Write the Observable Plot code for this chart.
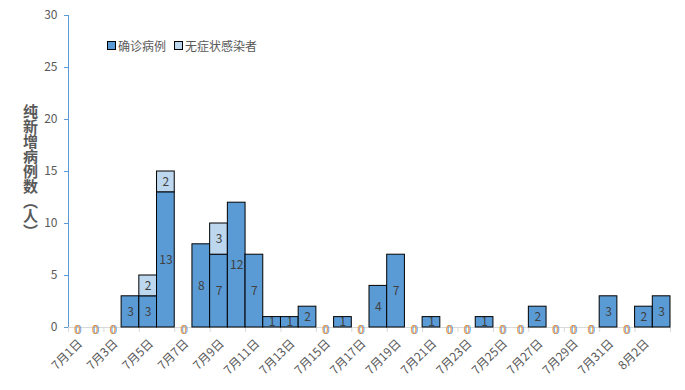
<!DOCTYPE html>
<html>
<head>
<meta charset="utf-8">
<script src="https://cdn.jsdelivr.net/npm/d3@7"></script>
<script src="https://cdn.jsdelivr.net/npm/@observablehq/plot@0.6"></script>
<style>
  html, body { margin: 0; padding: 0; background: #fff; }
  #wrap { position: relative; width: 685px; height: 390px; font-family: "Noto Sans CJK SC", "Noto Sans", sans-serif; }
  #ytitle { position: absolute; left: 22px; top: 104px; writing-mode: vertical-rl; text-orientation: upright; font-size: 15px; line-height: 17px; letter-spacing: 0px; font-weight: bold; color: #595959; }
  #legend { position: absolute; left: 107px; top: 37px; font-size: 12px; color: #595959; display: flex; align-items: center; }
  #legend .sw { display: inline-block; width: 7px; height: 7px; border: 1px solid #000; margin-right: 2px; }
  #legend .item { display: flex; align-items: center; margin-right: 8px; }
</style>
</head>
<body>
<div id="wrap"></div>
<script>
const dates = ["7月1日","7月2日","7月3日","7月4日","7月5日","7月6日","7月7日","7月8日","7月9日","7月10日",
  "7月11日","7月12日","7月13日","7月14日","7月15日","7月16日","7月17日","7月18日","7月19日","7月20日",
  "7月21日","7月22日","7月23日","7月24日","7月25日","7月26日","7月27日","7月28日","7月29日","7月30日",
  "7月31日","8月1日","8月2日","8月3日"];
const confirmed = [0,0,0,3,3,13,0,8,7,12, 7,1,1,2,0,1,0,4,7,0, 1,0,0,1,0,0,2,0,0,0, 3,0,2,3];
const asymptomatic = [0,0,0,0,2,2,0,0,3,0, 0,0,0,0,0,0,0,0,0,0, 0,0,0,0,0,0,0,0,0,0, 0,0,0,0];
const seriesNames = ["确诊病例", "无症状感染者"];
const seriesColors = ["#5B9BD5", "#BDD7EE"];
const yTicks = [0, 5, 10, 15, 20, 25, 30];
const yTitle = "纯新增病例数（人）";

const rows = [];
dates.forEach((d, i) => {
  rows.push({i, s: 0, y1: 0, y2: confirmed[i], v: confirmed[i]});
  rows.push({i, s: 1, y1: confirmed[i], y2: confirmed[i] + asymptomatic[i], v: asymptomatic[i]});
});
const barRows = rows.filter(r => r.v > 0);
const zeroRows = dates.map((d, i) => ({i, t: confirmed[i] + asymptomatic[i]})).filter(r => r.t === 0);
const labelIdx = dates.map((d, i) => i).filter(i => i % 2 === 0);
const boundaryTicks = d3.range(0, dates.length + 1, 2);

const chart = Plot.plot({
  width: 685,
  height: 390,
  marginLeft: 68,
  marginRight: 15,
  marginTop: 15,
  marginBottom: 63,
  style: {fontFamily: '"Noto Sans CJK SC", "Noto Sans", sans-serif', fontSize: "12px", background: "#fff"},
  x: {type: "linear", domain: [0, dates.length], axis: null},
  y: {domain: [0, 30], axis: null},
  marks: [
    Plot.ruleY([0], {stroke: "#d9d9d9", strokeWidth: 1}),
    Plot.axisX({ticks: boundaryTicks, tickSize: 5, tickFormat: () => "", stroke: "#d9d9d9", anchor: "bottom", label: null}),
    Plot.rectY(barRows, {x1: "i", x2: d => d.i + 1, y1: "y1", y2: "y2", fill: d => seriesColors[d.s], stroke: "#000", strokeWidth: 1}),
    Plot.text(barRows, {x: d => d.i + 0.5, y: d => (d.y1 + d.y2) / 2, text: d => String(d.v), fill: "#404040", fontSize: 12}),
    Plot.text(zeroRows, {x: d => d.i + 0.5, y: 0, text: () => "0", fill: "#5B9BD5", fontSize: 12, dx: 1, dy: 3}),
    Plot.text(zeroRows, {x: d => d.i + 0.5, y: 0, text: () => "0", fill: "#E0913F", fontSize: 12, dx: 0, dy: 3}),
    Plot.ruleX([0], {y1: 0, y2: 30, stroke: "#5B9BD5", strokeWidth: 1}),
    Plot.axisY({ticks: yTicks, tickSize: 4, tickPadding: 7, stroke: "#5B9BD5", fill: "#595959", fontSize: 12, anchor: "left", label: null}),
    Plot.text(labelIdx, {x: i => i + 0.5, y: 0, text: i => dates[i], rotate: -45, textAnchor: "end", lineAnchor: "middle", dy: 14, dx: 3, fill: "#595959", fontSize: 12})
  ]
});

const wrap = document.getElementById("wrap");
wrap.appendChild(chart);

const yt = document.createElement("div");
yt.id = "ytitle";
yt.textContent = yTitle;
wrap.appendChild(yt);

const lg = document.createElement("div");
lg.id = "legend";
seriesNames.forEach((n, k) => {
  const it = document.createElement("span");
  it.className = "item";
  it.innerHTML = `<span class="sw" style="background:${seriesColors[k]}"></span>${n}`;
  lg.appendChild(it);
});
wrap.appendChild(lg);
</script>
</body>
</html>
